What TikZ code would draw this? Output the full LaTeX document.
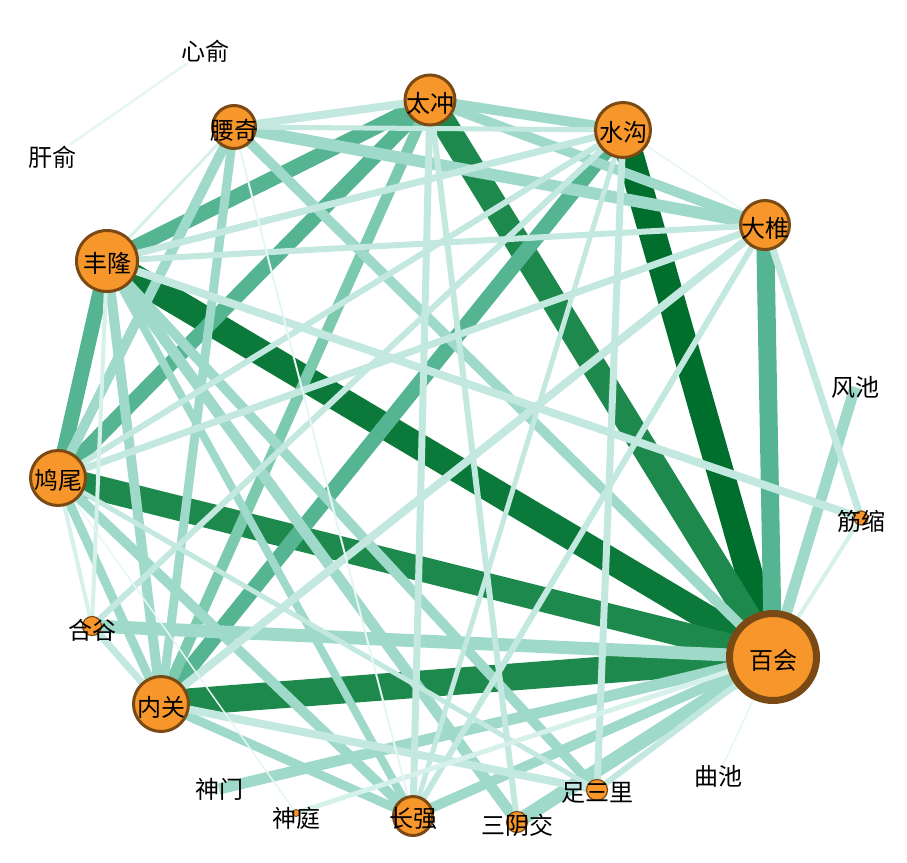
\documentclass[tikz,border=0pt]{standalone}
\usepackage{fontspec}
\newfontfamily\cjk{Noto Sans CJK SC}
\usetikzlibrary{backgrounds}

\definecolor{acufill}{HTML}{F7962A}
\definecolor{rim}{HTML}{7B4A14}
\definecolor{deep}{HTML}{006F2E}
\definecolor{dark}{HTML}{0B793A}
\definecolor{darkb}{HTML}{1E894C}
\definecolor{mid}{HTML}{55B492}
\definecolor{midl}{HTML}{7CCAAE}
\definecolor{light}{HTML}{9FD9CA}
\definecolor{pale}{HTML}{C2E8DF}
\definecolor{faint}{HTML}{D6F0EA}
\definecolor{hair}{HTML}{E6F6F2}

\begin{document}
\begin{tikzpicture}[x=1pt, y=-1pt]
    % Define styles
    \tikzstyle{acu} = [circle, draw=rim, line width=3pt, fill=acufill, inner sep=0pt]
    \tikzstyle{smallacu} = [acu, line width=1.2pt]
    \tikzstyle{tag} = [font=\cjk\fontsize{24}{24}\selectfont, inner sep=1pt]
    \tikzstyle{deeplink} = [draw=deep, line width=27pt]
    \tikzstyle{darklink} = [draw=darkb, line width=25pt]
    \tikzstyle{midlink} = [draw=mid, line width=15pt]
    \tikzstyle{lightlink} = [draw=light, line width=10pt]
    \tikzstyle{palelink} = [draw=pale, line width=7pt]
    \tikzstyle{faintlink} = [draw=faint, line width=4pt]
    \tikzstyle{hairlink} = [draw=hair, line width=1.5pt]

    \useasboundingbox (0,0) rectangle (907,862);

    % Acupoints
    \node[acu, line width=7pt, minimum size=87pt] (baihui) at (773,657) {};
    \node[acu, minimum size=61pt] (fenglong) at (107,261) {};
    \node[acu, minimum size=55pt] (jiuwei) at (58,478) {};
    \node[acu, minimum size=55pt] (neiguan) at (161,704) {};
    \node[acu, minimum size=55pt] (shuigou) at (623,130) {};
    \node[acu, minimum size=50pt] (taichong) at (430,100) {};
    \node[acu, minimum size=49pt] (dazhui) at (765,225) {};
    \node[acu, minimum size=43pt] (yaoqi) at (234,127) {};
    \node[acu, minimum size=39pt] (changqiang) at (413,816) {};
    \node[smallacu, minimum size=21pt] (sanyinjiao) at (517,822) {};
    \node[smallacu, minimum size=21pt] (zusanli) at (597,790) {};
    \node[smallacu, minimum size=19pt] (hegu) at (92,626) {};
    \node[smallacu, minimum size=14pt] (jinsuo) at (861,518) {};
    \node[smallacu, line width=0.8pt, minimum size=7pt] (shenting) at (296,813) {};

    % Names
    \node[tag] (baihui-t) at (773,660) {百会};
    \node[tag] (fenglong-t) at (107,263) {丰隆};
    \node[tag] (jiuwei-t) at (58,480) {鸠尾};
    \node[tag] (neiguan-t) at (161,707) {内关};
    \node[tag] (shuigou-t) at (623,132) {水沟};
    \node[tag] (taichong-t) at (430,103) {太冲};
    \node[tag] (dazhui-t) at (765,228) {大椎};
    \node[tag] (yaoqi-t) at (234,130) {腰奇};
    \node[tag] (changqiang-t) at (413,819) {长强};
    \node[tag] (sanyinjiao-t) at (517,825) {三阴交};
    \node[tag] (zusanli-t) at (597,793) {足三里};
    \node[tag] (hegu-t) at (92,630) {合谷};
    \node[tag] (jinsuo-t) at (861,521) {筋缩};
    \node[tag] (shenting-t) at (296,818) {神庭};
    \node[tag] (fengchi) at (855,387) {风池};
    \node[tag] (shenmen) at (219,789) {神门};
    \node[tag] (quchi) at (718,776) {曲池};
    \node[tag] (xinshu) at (205,51) {心俞};
    \node[tag] (ganshu) at (52,157) {肝俞};

    \begin{pgfonlayer}{background}
    % Strongest links
    \draw[deeplink] (baihui.center) -- (shuigou.center);
    \draw[darklink, draw=dark, line width=26pt] (baihui.center) -- (fenglong.center);
    \draw[darklink] (baihui.center) -- (taichong.center);
    \draw[darklink] (baihui.center) -- (jiuwei.center);
    \draw[darklink, line width=27pt] (baihui.center) -- (neiguan.center);

    % Medium links
    \draw[midlink, line width=18pt] (baihui.center) -- (dazhui.center);
    \draw[midlink] (fenglong.center) -- (taichong.center);
    \draw[midlink] (fenglong.center) -- (jiuwei.center);
    \draw[midlink] (taichong.center) -- (jiuwei.center);
    \draw[midlink] (shuigou.center) -- (neiguan.center);
    \draw[midlink, draw=midl, line width=11pt] (taichong.center) -- (neiguan.center);

    % Light links
    \draw[lightlink, line width=11pt] (baihui.center) -- (fengchi.center);
    \draw[lightlink] (baihui.center) -- (yaoqi.center);
    \draw[lightlink, line width=13pt] (baihui.center) -- (hegu.center);
    \draw[lightlink, line width=11pt] (baihui.center) -- (shenmen.center);
    \draw[lightlink] (baihui.center) -- (changqiang.center);
    \draw[lightlink, line width=14pt] (baihui.center) -- (sanyinjiao.center);
    \draw[lightlink] (fenglong.center) -- (neiguan.center);
    \draw[lightlink, line width=11pt] (fenglong.center) -- (sanyinjiao.center);
    \draw[lightlink] (fenglong.center) -- (zusanli.center);
    \draw[lightlink, line width=8pt] (fenglong.center) -- (changqiang.center);
    \draw[lightlink] (taichong.center) -- (shuigou.center);
    \draw[lightlink] (taichong.center) -- (dazhui.center);
    \draw[lightlink, line width=12pt] (dazhui.center) -- (yaoqi.center);
    \draw[lightlink] (yaoqi.center) -- (jiuwei.center);
    \draw[lightlink, line width=9pt] (yaoqi.center) -- (neiguan.center);
    \draw[lightlink, line width=9pt] (jiuwei.center) -- (neiguan.center);
    \draw[lightlink] (jiuwei.center) -- (changqiang.center);
    \draw[lightlink, line width=9pt] (neiguan.center) -- (changqiang.center);

    % Pale links
    \draw[palelink] (fenglong.center) -- (shuigou.center);
    \draw[palelink, line width=6pt] (fenglong.center) -- (dazhui.center);
    \draw[palelink, line width=8pt] (fenglong.center) -- (jinsuo.center);
    \draw[palelink] (taichong.center) -- (changqiang.center);
    \draw[palelink, line width=6pt] (taichong.center) -- (sanyinjiao.center);
    \draw[palelink, line width=8pt] (taichong.center) -- (yaoqi.center);
    \draw[palelink, line width=5pt] (shuigou.center) -- (yaoqi.center);
    \draw[palelink, line width=6pt] (shuigou.center) -- (jiuwei.center);
    \draw[palelink] (shuigou.center) -- (zusanli.center);
    \draw[palelink, line width=5pt] (shuigou.center) -- (changqiang.center);
    \draw[palelink, line width=6pt] (shuigou.center) -- (hegu.center);
    \draw[palelink] (dazhui.center) -- (jiuwei.center);
    \draw[palelink, line width=8pt] (dazhui.center) -- (neiguan.center);
    \draw[palelink, line width=6pt] (dazhui.center) -- (changqiang.center);
    \draw[palelink] (dazhui.center) -- (jinsuo.center);
    \draw[palelink, line width=6pt] (baihui.center) -- (zusanli.center);
    \draw[palelink] (neiguan.center) -- (hegu.center);
    \draw[palelink, line width=8pt] (neiguan.center) -- (zusanli.center);
    \draw[palelink, line width=5pt] (jiuwei.center) -- (zusanli.center);

    % Faint links
    \draw[faintlink] (baihui.center) -- (jinsuo.center);
    \draw[faintlink, line width=5pt] (baihui.center) -- (shenting.center);
    \draw[faintlink] (fenglong.center) -- (hegu.center);
    \draw[faintlink, line width=3pt] (fenglong.center) -- (yaoqi.center);
    \draw[faintlink] (jiuwei.center) -- (hegu.center);

    % Hairline links
    \draw[hairlink] (baihui.center) -- (quchi.center);
    \draw[hairlink] (shuigou.center) -- (dazhui.center);
    \draw[hairlink, line width=2pt] (yaoqi.center) -- (changqiang.center);
    \draw[hairlink] (jiuwei.center) -- (shenting.center);
    \draw[hairlink, line width=2.5pt] (ganshu) -- (xinshu);
    \end{pgfonlayer}
\end{tikzpicture}
\end{document}
